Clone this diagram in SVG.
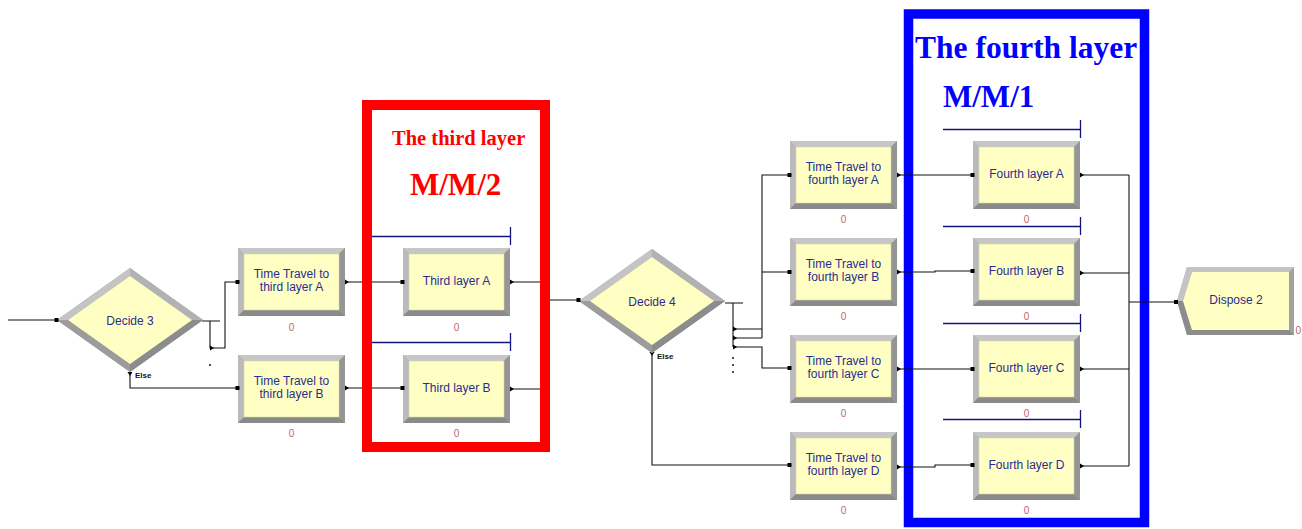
<svg xmlns="http://www.w3.org/2000/svg" xmlns:xlink="http://www.w3.org/1999/xlink" width="1302" height="529" viewBox="0 0 1302 529">
<style>
.lbl{font-family:"Liberation Sans",Arial,sans-serif;font-size:12px;fill:#2b2b8f;text-anchor:middle}
.cnt{font-family:"Liberation Sans",Arial,sans-serif;font-size:10px;fill:#b86a6a;text-anchor:middle}
.else{font-family:"Liberation Sans",Arial,sans-serif;font-size:8px;fill:#111;font-weight:bold}
.con{fill:none;stroke:#111;stroke-width:1.1}
.q{fill:none;stroke:#14147e;stroke-width:1.3}
.ttl{font-family:"Liberation Serif","Times New Roman",serif;font-weight:bold}
.ent{fill:#000}
</style>
<defs>
<symbol id="proc" viewBox="0 0 107 68">
<rect x="0" y="0" width="107" height="68" fill="#a2a2a2"/>
<polygon points="0,0 107,0 101,6 6,6" fill="#c6c6c6"/>
<polygon points="0,0 6,6 6,62 0,68" fill="#bababa"/>
<polygon points="0,68 6,62 101,62 107,68" fill="#8a8a8a"/>
<polygon points="107,0 107,68 101,62 101,6" fill="#959595"/>
<rect x="6" y="6" width="95" height="56" fill="#ffffc4" stroke="#d6d6a8" stroke-width="0.6"/>
</symbol>
<symbol id="dec" viewBox="0 0 146 104">
<polygon points="0,52 73,0 146,52 73,104" fill="#a4a4a4"/>
<polygon points="0,52 73,0 73,8 11,52" fill="#c4c4c4"/>
<polygon points="73,0 146,52 135,52 73,8" fill="#b2b2b2"/>
<polygon points="146,52 73,104 73,96 135,52" fill="#8c8c8c"/>
<polygon points="0,52 11,52 73,96 73,104" fill="#9c9c9c"/>
<polygon points="11,52 73,8 135,52 73,96" fill="#ffffc4"/>
</symbol>
</defs>
<rect width="1302" height="529" fill="#fff"/>

<g id="frame-fourth">
<rect x="908.5" y="14" width="236" height="508.5" fill="none" stroke="#0000ff" stroke-width="9.5"/>
<text class="ttl" x="915" y="58" font-size="31.5" fill="#0000ff">The fourth layer</text>
<text class="ttl" x="943" y="107" font-size="31" fill="#0000ff">M/M/1</text>
</g>

<g id="connectors">
<path class="con" d="M8,320 H57"/>
<path class="con" d="M202,321 H220 M210,321 V348 H225 V282 H238"/>
<path class="con" d="M130,375 V388 H238"/>
<path class="con" d="M344,282 H403"/>
<path class="con" d="M344,388 H403"/>
<path class="con" d="M510,282 H545 V389 H510 M545,300 H579"/>
<path class="con" d="M725,303 H743 M733,303 V347"/>
<path class="con" d="M733,329 H762 M733,338 H762 M762,338 V175 H790 M762,272 H790"/>
<path class="con" d="M733,347 H762 V368 H790"/>
<path class="con" d="M652,355 V465 H790"/>
<path class="con" d="M897,175 H973"/>
<path class="con" d="M897,272 H935 V271 H973"/>
<path class="con" d="M897,369 H973"/>
<path class="con" d="M897,467 H935 V465 H973"/>
<path class="con" d="M1080,175 H1129 M1080,273 H1129 M1080,369 H1129 M1080,466 H1129 M1129,175 V466 M1129,302 H1177"/>
<polygon points="210,345.5 214,348 210,350.5"/>
<polygon points="733,326.5 737,329 733,331.5"/>
<polygon points="733,335.5 737,338 733,340.5"/>
<polygon points="733,344.5 737,347 733,349.5"/>
<polygon points="127.5,372 132.5,372 130,376"/>
<polygon points="649.5,352 654.5,352 652,356"/>
<circle cx="210" cy="365" r="0.9"/>
<circle cx="733" cy="358" r="0.9"/>
<circle cx="733" cy="365" r="0.9"/>
<circle cx="733" cy="372" r="0.9"/>
<text class="else" x="135" y="378">Else</text>
<text class="else" x="657" y="359">Else</text>
</g>

<g id="frame-third">
<rect x="367" y="105" width="178" height="342" fill="none" stroke="#ff0000" stroke-width="10"/>
<text class="ttl" x="392" y="145" font-size="20.5" fill="#ff0000">The third layer</text>
<text class="ttl" x="410" y="195" font-size="31" fill="#ff0000">M/M/2</text>
</g>

<g id="queues">
<path class="q" d="M372,236.5 H510.5 M510.5,227 V245"/>
<path class="q" d="M372,342.5 H510.5 M510.5,333 V351"/>
<path class="q" d="M943,129.5 H1080.5 M1080.5,120 V138"/>
<path class="q" d="M943,226.5 H1080.5 M1080.5,217 V235"/>
<path class="q" d="M943,323.5 H1080.5 M1080.5,314 V332"/>
<path class="q" d="M943,419.5 H1080.5 M1080.5,410 V428"/>
</g>

<g id="decide3">
<use xlink:href="#dec" x="57" y="268" width="146" height="104"/>
<rect class="ent" x="54.5" y="318" width="4" height="4"/>
<text class="lbl" x="130" y="324.5">Decide 3</text>
</g>

<g id="tt3a">
<use xlink:href="#proc" x="238" y="248" width="107" height="68"/>
<rect class="ent" x="235.5" y="280" width="4" height="4"/>
<polygon points="345,279.5 349,282 345,284.5"/>
<text class="lbl" x="291.5" y="278">Time Travel to</text>
<text class="lbl" x="291.5" y="291">third layer A</text>
<text class="cnt" x="291.5" y="331">0</text>
</g>

<g id="tt3b">
<use xlink:href="#proc" x="238" y="355" width="107" height="68"/>
<rect class="ent" x="235.5" y="386" width="4" height="4"/>
<polygon points="345,385.5 349,388 345,390.5"/>
<text class="lbl" x="291.5" y="385">Time Travel to</text>
<text class="lbl" x="291.5" y="398">third layer B</text>
<text class="cnt" x="291.5" y="437">0</text>
</g>

<g id="t3a">
<use xlink:href="#proc" x="403" y="248" width="107" height="68"/>
<rect class="ent" x="400.5" y="280" width="4" height="4"/>
<polygon points="510,279.5 514,282 510,284.5"/>
<text class="lbl" x="456.5" y="284.5">Third layer A</text>
<text class="cnt" x="456.5" y="331">0</text>
</g>

<g id="t3b">
<use xlink:href="#proc" x="403" y="355" width="107" height="68"/>
<rect class="ent" x="400.5" y="386" width="4" height="4"/>
<polygon points="510,386.5 514,389 510,391.5"/>
<text class="lbl" x="456.5" y="391.5">Third layer B</text>
<text class="cnt" x="456.5" y="437">0</text>
</g>

<g id="decide4">
<use xlink:href="#dec" x="579" y="249" width="146" height="104"/>
<rect class="ent" x="576.5" y="298" width="4" height="4"/>
<text class="lbl" x="652" y="305.5">Decide 4</text>
</g>

<g id="tt4a">
<use xlink:href="#proc" x="790" y="141" width="107" height="68"/>
<rect class="ent" x="787.5" y="173" width="4" height="4"/>
<polygon points="897,172.5 901,175 897,177.5"/>
<text class="lbl" x="843.5" y="171">Time Travel to</text>
<text class="lbl" x="843.5" y="184">fourth layer A</text>
<text class="cnt" x="843.5" y="223">0</text>
</g>

<g id="tt4b">
<use xlink:href="#proc" x="790" y="238" width="107" height="68"/>
<rect class="ent" x="787.5" y="270" width="4" height="4"/>
<polygon points="897,269.5 901,272 897,274.5"/>
<text class="lbl" x="843.5" y="268">Time Travel to</text>
<text class="lbl" x="843.5" y="281">fourth layer B</text>
<text class="cnt" x="843.5" y="320">0</text>
</g>

<g id="tt4c">
<use xlink:href="#proc" x="790" y="335" width="107" height="68"/>
<rect class="ent" x="787.5" y="366" width="4" height="4"/>
<polygon points="897,366.5 901,369 897,371.5"/>
<text class="lbl" x="843.5" y="365">Time Travel to</text>
<text class="lbl" x="843.5" y="378">fourth layer C</text>
<text class="cnt" x="843.5" y="417">0</text>
</g>

<g id="tt4d">
<use xlink:href="#proc" x="790" y="432" width="107" height="68"/>
<rect class="ent" x="787.5" y="463" width="4" height="4"/>
<polygon points="897,464.5 901,467 897,469.5"/>
<text class="lbl" x="843.5" y="462">Time Travel to</text>
<text class="lbl" x="843.5" y="475">fourth layer D</text>
<text class="cnt" x="843.5" y="514">0</text>
</g>

<g id="f4a">
<use xlink:href="#proc" x="973" y="141" width="107" height="68"/>
<rect class="ent" x="970.5" y="173" width="4" height="4"/>
<polygon points="1080,172.5 1084,175 1080,177.5"/>
<text class="lbl" x="1026.5" y="178">Fourth layer A</text>
<text class="cnt" x="1026.5" y="223">0</text>
</g>

<g id="f4b">
<use xlink:href="#proc" x="973" y="238" width="107" height="68"/>
<rect class="ent" x="970.5" y="269" width="4" height="4"/>
<polygon points="1080,270.5 1084,273 1080,275.5"/>
<text class="lbl" x="1026.5" y="275">Fourth layer B</text>
<text class="cnt" x="1026.5" y="320">0</text>
</g>

<g id="f4c">
<use xlink:href="#proc" x="973" y="335" width="107" height="68"/>
<rect class="ent" x="970.5" y="367" width="4" height="4"/>
<polygon points="1080,366.5 1084,369 1080,371.5"/>
<text class="lbl" x="1026.5" y="372">Fourth layer C</text>
<text class="cnt" x="1026.5" y="417">0</text>
</g>

<g id="f4d">
<use xlink:href="#proc" x="973" y="432" width="107" height="68"/>
<rect class="ent" x="970.5" y="463" width="4" height="4"/>
<polygon points="1080,463.5 1084,466 1080,468.5"/>
<text class="lbl" x="1026.5" y="469">Fourth layer D</text>
<text class="cnt" x="1026.5" y="514">0</text>
</g>

<g id="dispose2">
<polygon points="1177,301 1187,267 1294,267 1294,335 1187,335" fill="#a2a2a2"/>
<polygon points="1177,301 1187,267 1294,267 1289,272 1192,272 1183,301" fill="#c4c4c4"/>
<polygon points="1177,301 1183,301 1192,330 1289,330 1294,335 1187,335" fill="#8c8c8c"/>
<polygon points="1183,301 1192,272 1289,272 1289,330 1192,330" fill="#ffffc4"/>
<rect class="ent" x="1174" y="300" width="4" height="4"/>
<text class="lbl" x="1236" y="304">Dispose 2</text>
<text class="cnt" x="1301" y="334" text-anchor="end" style="text-anchor:end">0</text>
</g>
</svg>
